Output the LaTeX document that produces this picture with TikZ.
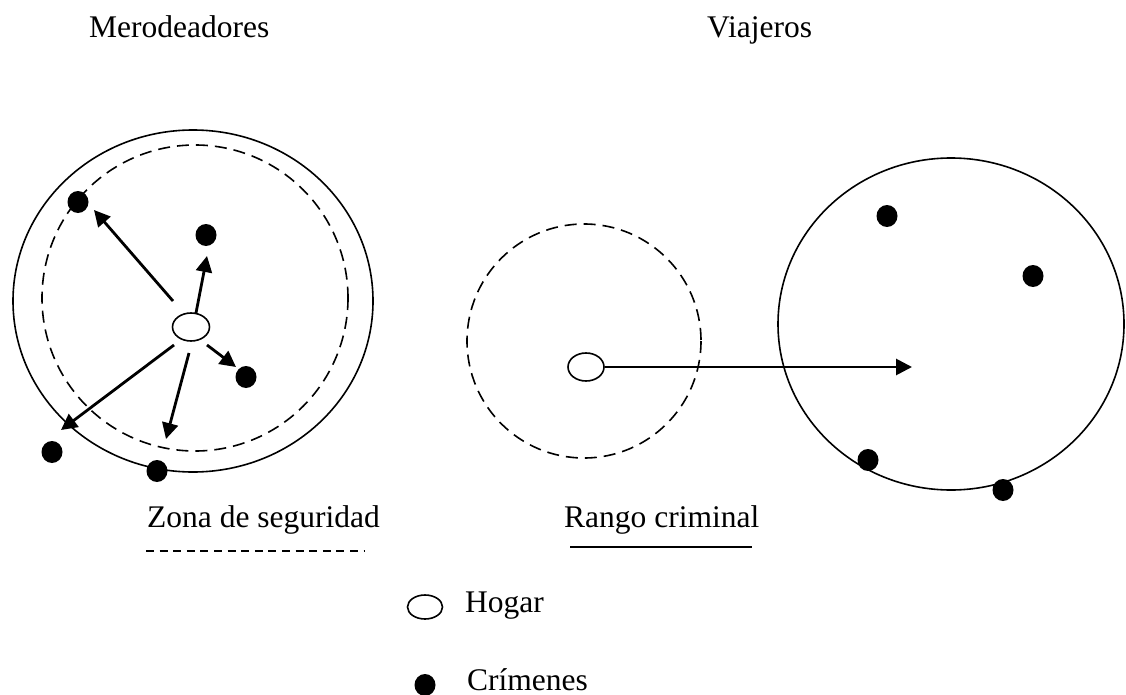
\documentclass[tikz,border=0pt]{standalone}
\usepackage{fontspec}
\setmainfont{Liberation Serif}
\usetikzlibrary{arrows.meta,shapes.geometric}
\begin{document}
\begin{tikzpicture}[x=1pt,y=-1pt,
  txt/.style={anchor=base west,inner sep=0pt,font=\fontsize{31.5}{38}\selectfont},
  crime/.style={ellipse,fill=black,minimum width=21pt,minimum height=22pt,inner sep=0pt},
  homeshape/.style={ellipse,draw,line width=1.6pt,fill=white,inner sep=0pt},
  zonering/.style={draw,line width=1.6pt,dash pattern=on 12pt off 7pt},
  solidring/.style={draw,line width=1.6pt},
  arr/.style={line width=2.8pt,-{Triangle[length=16pt,width=16pt]}}
]
\useasboundingbox (0,0) rectangle (1126,695);
% titles
\node[txt] (t1) at (89,38) {Merodeadores};
\node[txt] (t2) at (707,38) {Viajeros};
% left: marauders
\draw[solidring] (193,301) ellipse [x radius=180, y radius=171];
\draw[zonering] (195,298) ellipse [x radius=153, y radius=153];
\node[homeshape,minimum width=37pt,minimum height=28pt] (h1) at (191,327) {};
\node[crime] (c1) at (78,202) {};
\node[crime] (c2) at (206,235) {};
\node[crime] (c3) at (246,377) {};
\node[crime] (c4) at (52,452) {};
\node[crime] (c5) at (157,471) {};
\coordinate (a1s) at (173,301); \coordinate (a1e) at (94,210);
\coordinate (a2s) at (196,313); \coordinate (a2e) at (207,256);
\coordinate (a3s) at (207,345); \coordinate (a3e) at (236,367);
\coordinate (a4s) at (174,345); \coordinate (a4e) at (61,430);
\coordinate (a5s) at (189,353); \coordinate (a5e) at (166,439);
\draw[arr] (a1s) -- (a1e);
\draw[arr] (a2s) -- (a2e);
\draw[arr] (a3s) -- (a3e);
\draw[arr] (a4s) -- (a4e);
\draw[arr] (a5s) -- (a5e);
% right: commuters
\draw[zonering] (584,341) ellipse [x radius=117, y radius=117];
\draw[solidring] (951,324) ellipse [x radius=173, y radius=166];
\node[homeshape,minimum width=36pt,minimum height=28pt] (h2) at (586,367) {};
\coordinate (a6e) at (912,367);
\draw[arr] (h2.east) -- (a6e);
\node[crime] (c6) at (887,216) {};
\node[crime] (c7) at (1033,276) {};
\node[crime] (c8) at (868,460) {};
\node[crime] (c9) at (1003,490) {};
% legend
\node[txt] (zs) at (147,527) {Zona de seguridad};
\coordinate (zl1) at (146,551); \coordinate (zl2) at (365,551);
\draw[line width=1.2pt,dash pattern=on 8pt off 5.6pt] (zl1) -- (zl2);
\node[txt] (rc) at (564,527) {Rango criminal};
\coordinate (rl1) at (570,547); \coordinate (rl2) at (752,547);
\draw[line width=1.6pt] (rl1) -- (rl2);
\node[homeshape,minimum width=35pt,minimum height=24pt] (lh) at (425,607) {};
\node[txt] (lht) at (465,612) {Hogar};
\node[crime] (lc) at (425,685) {};
\node[txt] (lct) at (467,690) {Crímenes};
\end{tikzpicture}
\end{document}
